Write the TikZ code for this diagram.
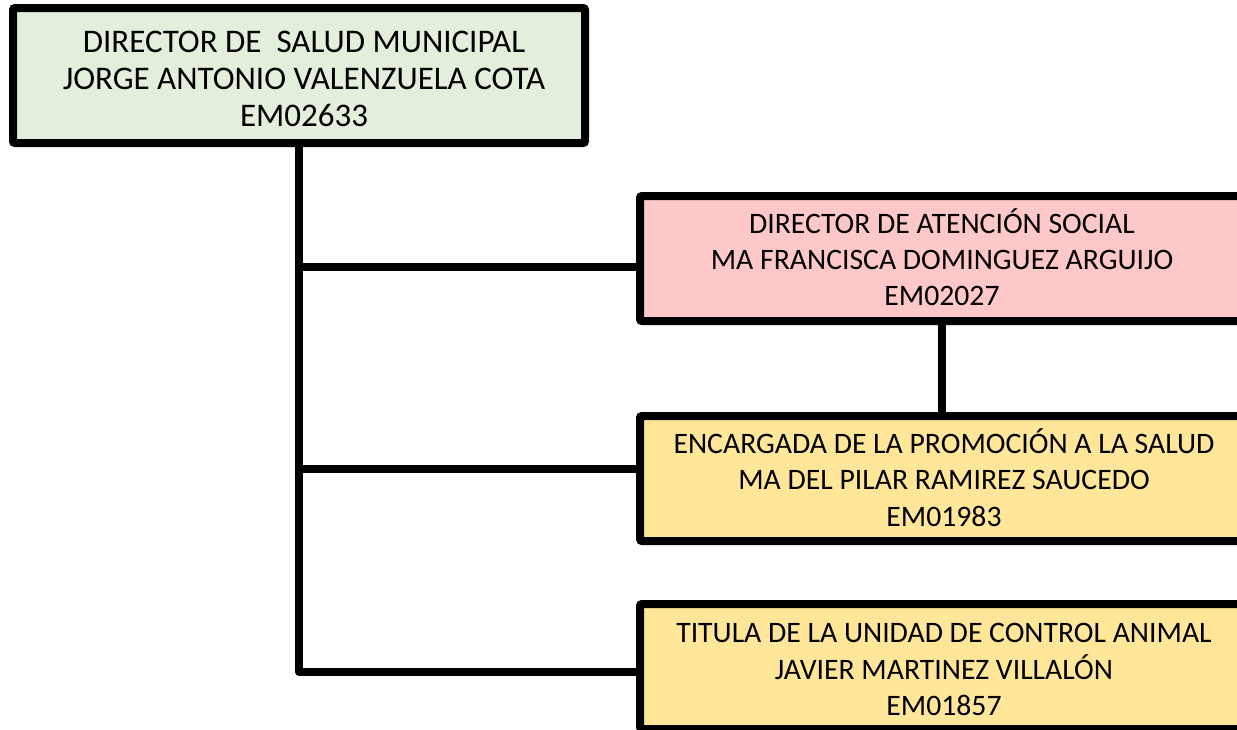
\documentclass[tikz,border=0pt]{standalone}
\usepackage{fontspec}
\setmainfont{Carlito}
\definecolor{boxgreen}{HTML}{E2EFDA}
\definecolor{boxpink}{HTML}{FFC8C8}
\definecolor{boxyellow}{HTML}{FFE699}
\begin{document}
\begin{tikzpicture}[x=1pt,y=1pt,
  orgbox/.style={draw=black, line width=8pt, rounded corners=2pt, align=center,
    inner sep=0pt},
  bigtext/.style={align=center, font=\fontsize{33}{36.8}\selectfont},
  smalltext/.style={align=center, font=\fontsize{29.7}{36.2}\selectfont},
  link/.style={draw=black, line width=8pt, line join=round}]
\useasboundingbox (0,0) rectangle (1237,-729);
\clip (0,0) rectangle (1237,-729);
\node[orgbox, fill=boxgreen, minimum width=572pt, minimum height=135pt] (top) at (299,-75.5) {};
\node[bigtext] (toptext) at (304,-79)
  {DIRECTOR DE \ SALUD MUNICIPAL\\JORGE ANTONIO VALENZUELA COTA\\EM02633};
\node[orgbox, fill=boxpink, minimum width=604pt, minimum height=125pt] (pink) at (942,-258.5) {};
\node[smalltext] (pinktext) at (942,-257.3)
  {DIRECTOR DE ATENCIÓN SOCIAL\\MA FRANCISCA DOMINGUEZ ARGUIJO\\EM02027};
\node[orgbox, fill=boxyellow, minimum width=604pt, minimum height=125pt] (yone) at (942,-478.5) {};
\node[smalltext] (yonetext) at (944,-477.5)
  {ENCARGADA DE LA PROMOCIÓN A LA SALUD\\MA DEL PILAR RAMIREZ SAUCEDO\\EM01983};
\node[orgbox, fill=boxyellow, minimum width=604pt, minimum height=125pt] (ytwo) at (942,-666.5) {};
\node[smalltext] (ytwotext) at (944,-669.5)
  {TITULA DE LA UNIDAD DE CONTROL ANIMAL\\JAVIER MARTINEZ VILLALÓN\\EM01857};
\coordinate (pinkin) at ([yshift=-8.5pt]pink.west);
\coordinate (yonein) at ([yshift=9.5pt]yone.west);
\coordinate (ytwoin) at ([yshift=-5.5pt]ytwo.west);
\draw[link] (top.south) |- (ytwoin);
\draw[link] (top.south |- pinkin) -- (pinkin);
\draw[link] (top.south |- yonein) -- (yonein);
\draw[link] (pink.south) -- (yone.north);
\end{tikzpicture}
\end{document}
